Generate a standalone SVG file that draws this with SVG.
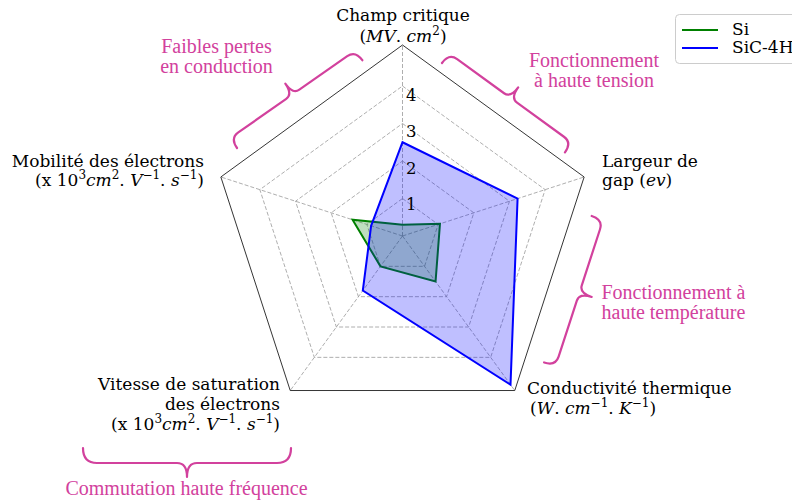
<svg xmlns="http://www.w3.org/2000/svg" width="792" height="502" viewBox="0 0 792 502">
<style>
.lbl{font-family:"DejaVu Serif",serif;font-size:17px;fill:#000}
.tk{font-family:"DejaVu Serif",serif;font-size:16.5px;fill:#000}
.it{font-style:italic}
.sup{font-size:12px}
.grid{fill:none;stroke:#999;stroke-width:0.8;stroke-dasharray:4,2}
.frame{fill:none;stroke:#000;stroke-width:0.8}
.pink{font-family:"Liberation Serif",serif;font-size:20px;fill:#d2419d}
.brace{fill:none;stroke:#d2419d;stroke-width:2.2;stroke-linecap:round;stroke-linejoin:round}
</style>
<rect width="792" height="502" fill="#fff"/>
<g id="chart" transform="translate(402.5,236)">
  <g id="grid">
    <polygon class="grid" points="0,-37.5 35.66,-11.59 22.04,30.34 -22.04,30.34 -35.66,-11.59"/>
    <polygon class="grid" points="0,-75 71.33,-23.18 44.08,60.68 -44.08,60.68 -71.33,-23.18"/>
    <polygon class="grid" points="0,-112.5 106.99,-34.76 66.13,91.01 -66.13,91.01 -106.99,-34.76"/>
    <polygon class="grid" points="0,-150 142.66,-46.35 88.17,121.35 -88.17,121.35 -142.66,-46.35"/>
    <path class="grid" d="M0,0 L0,-191 M0,0 L181.65,-59.02 M0,0 L112.27,154.52 M0,0 L-112.27,154.52 M0,0 L-181.65,-59.02"/>
  </g>
  <polygon id="frame" class="frame" points="0,-191 181.65,-59.02 112.27,154.52 -112.27,154.52 -181.65,-59.02"/>
  <g id="si">
    <polygon points="0,-11.25 37.47,-12.17 33.06,45.51 -22.04,30.34 -49.93,-16.22" fill="#008000" fill-opacity="0.25" stroke="#008000" stroke-width="2"/>
  </g>
  <g id="sic">
    <polygon points="0,-93.75 115.08,-37.39 108.01,148.66 -39.68,54.61 -31.38,-10.2" fill="#0000ff" fill-opacity="0.25" stroke="#0000ff" stroke-width="2"/>
  </g>
</g>
<g id="ticks" class="tk">
  <text x="406" y="210">1</text>
  <text x="406" y="174">2</text>
  <text x="406" y="137">3</text>
  <text x="406" y="101">4</text>
</g>
<g id="axis-field" class="lbl" text-anchor="middle">
  <text x="403" y="21">Champ critique</text>
  <text x="403" y="42">(<tspan class="it">MV</tspan>. <tspan class="it">cm</tspan><tspan class="sup" dy="-7">2</tspan><tspan dy="7">)</tspan></text>
</g>
<g id="axis-gap" class="lbl">
  <text x="602" y="167">Largeur de</text>
  <text x="602" y="186">gap (<tspan class="it">ev</tspan>)</text>
</g>
<g id="axis-cond" class="lbl">
  <text x="527" y="394">Conductivité thermique</text>
  <text x="530" y="414">(<tspan class="it">W</tspan>. <tspan class="it">cm</tspan><tspan class="sup" dy="-7">−1</tspan><tspan dy="7">. </tspan><tspan class="it">K</tspan><tspan class="sup" dy="-7">−1</tspan><tspan dy="7">)</tspan></text>
</g>
<g id="axis-vsat" class="lbl" text-anchor="end">
  <text x="280" y="390">Vitesse de saturation</text>
  <text x="280" y="410">des électrons</text>
  <text x="280" y="430">(x 10<tspan class="sup" dy="-7">3</tspan><tspan class="it" dy="7">cm</tspan><tspan class="sup" dy="-7">2</tspan><tspan dy="7">. </tspan><tspan class="it">V</tspan><tspan class="sup" dy="-7">−1</tspan><tspan dy="7">. </tspan><tspan class="it">s</tspan><tspan class="sup" dy="-7">−1</tspan><tspan dy="7">)</tspan></text>
</g>
<g id="axis-mob" class="lbl" text-anchor="end">
  <text x="204" y="167">Mobilité des électrons</text>
  <text x="204" y="186">(x 10<tspan class="sup" dy="-7">3</tspan><tspan class="it" dy="7">cm</tspan><tspan class="sup" dy="-7">2</tspan><tspan dy="7">. </tspan><tspan class="it">V</tspan><tspan class="sup" dy="-7">−1</tspan><tspan dy="7">. </tspan><tspan class="it">s</tspan><tspan class="sup" dy="-7">−1</tspan><tspan dy="7">)</tspan></text>
</g>
<g id="legend">
  <rect x="675.5" y="14.5" width="130" height="49" rx="4" fill="#fff" fill-opacity="0.8" stroke="#ccc" stroke-width="1"/>
  <line x1="682" y1="30" x2="718" y2="30" stroke="#008000" stroke-width="2"/>
  <line x1="682" y1="48" x2="718" y2="48" stroke="#0000ff" stroke-width="2"/>
  <text class="lbl" x="732" y="35">Si</text>
  <text class="lbl" x="732" y="53">SiC-4H</text>
</g>
<g id="annot-conduction">
  <path class="brace" transform="translate(237,148) rotate(-35)" d="M0,0 Q0,-12 10,-12 L68.5,-12 Q76.5,-12 76.5,-25 Q76.5,-12 84.5,-12 L143,-12 Q153,-12 153,0"/>
  <text class="pink" x="216.5" y="53" text-anchor="middle">Faibles pertes</text>
  <text class="pink" x="216.5" y="73" text-anchor="middle">en conduction</text>
</g>
<g id="annot-tension">
  <path class="brace" transform="translate(442,63) rotate(36)" d="M0,0 Q0,-12 10,-12 L68,-12 Q76,-12 76,-25 Q76,-12 84,-12 L142,-12 Q152,-12 152,0"/>
  <text class="pink" x="594" y="67" text-anchor="middle">Fonctionnement</text>
  <text class="pink" x="594" y="87" text-anchor="middle">à haute tension</text>
</g>
<g id="annot-temperature">
  <path class="brace" transform="translate(591.7,216) rotate(108)" d="M0,0 Q0,-12 10,-12 L69,-12 Q77,-12 77,-25 Q77,-12 85,-12 L144,-12 Q154,-12 154,0"/>
  <text class="pink" x="601.5" y="299">Fonctionnement à</text>
  <text class="pink" x="601.5" y="319">haute température</text>
</g>
<g id="annot-frequence">
  <path class="brace" transform="translate(291,448) rotate(180)" d="M0,0 Q0,-15 14,-15 L94,-15 Q104,-15 104,-29 Q104,-15 114,-15 L194,-15 Q208,-15 208,0"/>
  <text class="pink" x="186.5" y="495" text-anchor="middle">Commutation haute fréquence</text>
</g>
</svg>
